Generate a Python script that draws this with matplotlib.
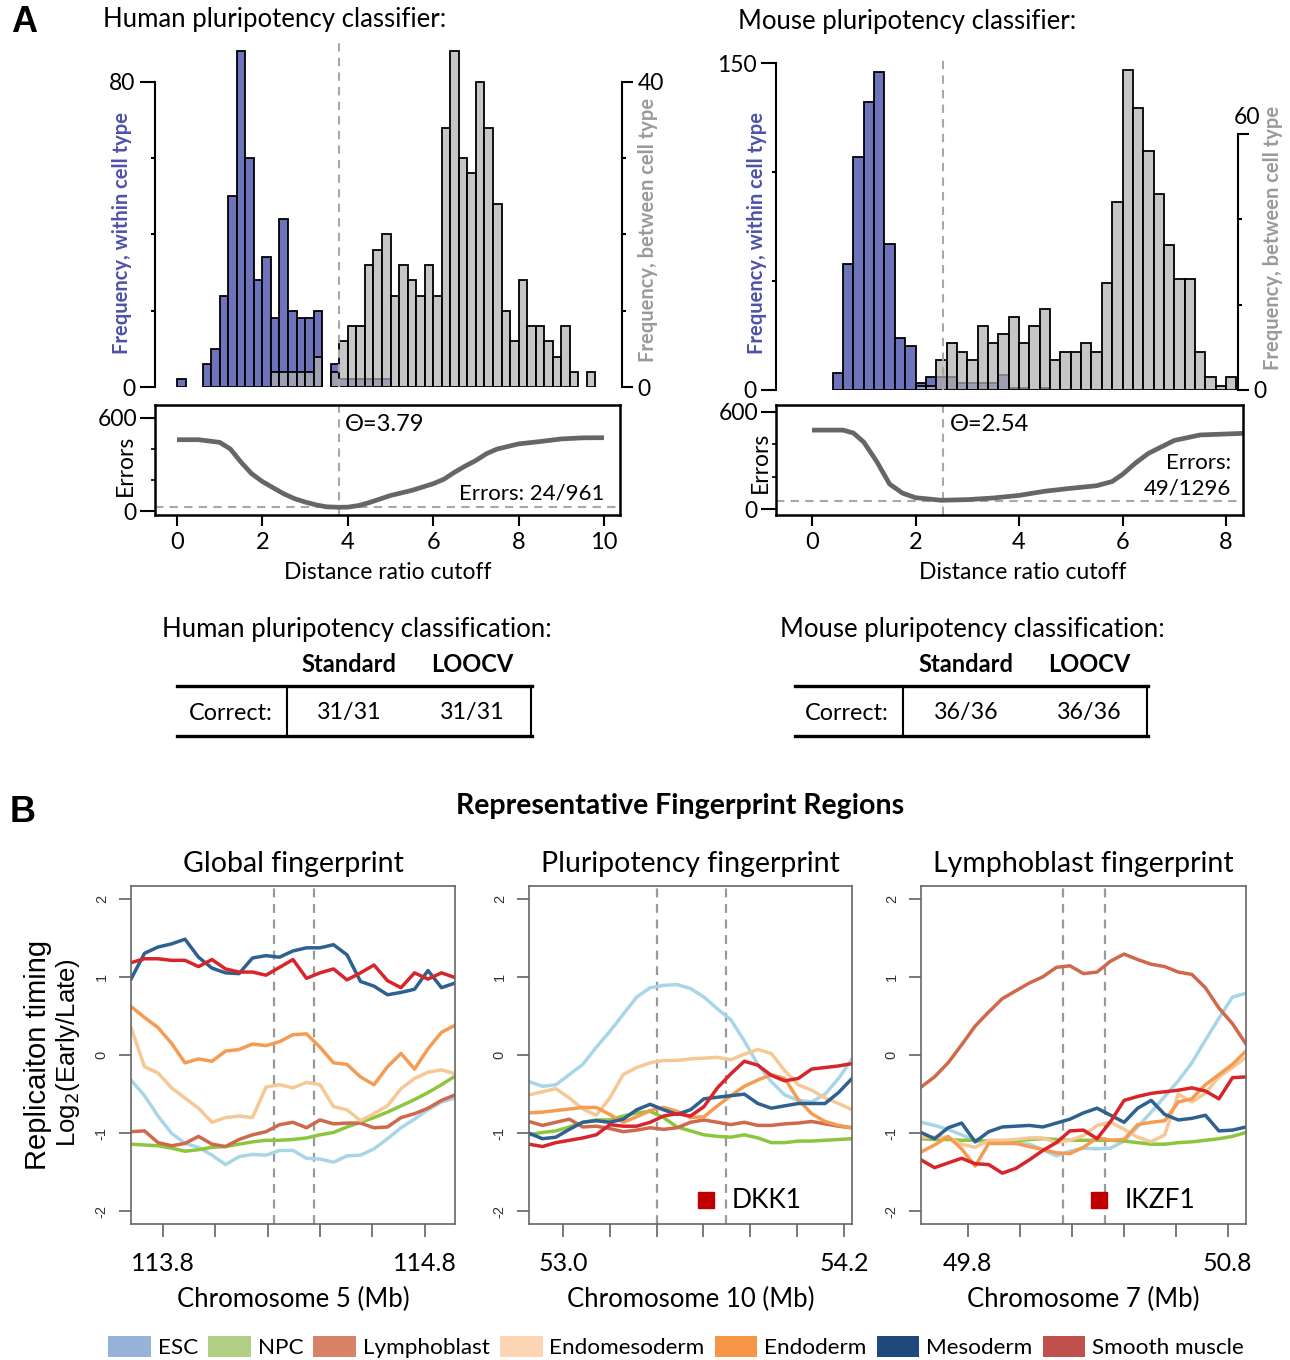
import numpy as np
import matplotlib
matplotlib.use('Agg')
import matplotlib.pyplot as plt
from matplotlib.lines import Line2D
from matplotlib.patches import Patch

plt.rcParams['font.family'] = ['Lato', 'DejaVu Sans']

W, H = 1290, 1360

# ---------------- Panel A data ----------------
# human: bins of 0.2 from 0 to 10
human_edges = np.arange(0, 10, 0.2)
human_within = [2, 0, 0, 6, 10, 24, 50, 88, 60, 28, 34, 18, 44, 20, 18, 18, 20, 0, 6, 2,
                2, 2, 2, 2, 2] + [0] * 25
human_between = [0] * 11 + [2, 2, 2, 2, 2, 4, 0, 2, 6, 8, 8, 16, 18, 20, 12, 16, 14, 12, 16,
                            12, 34, 44, 30, 28, 40, 34, 24, 10, 6, 14, 8, 8, 6, 4, 8, 2, 0, 2, 0]
# mouse: bins of 0.2 from 0.4 to 8.2
mouse_edges = np.arange(0.4, 8.2, 0.2)
mouse_within = [8, 58, 107, 132, 146, 67, 24, 20, 3, 6, 6, 6, 3, 3, 3, 3, 7, 1, 1, 0, 1] + [0] * 18
mouse_between = [0] * 8 + [1, 1, 7, 11, 9, 7, 15, 11, 13, 17, 11, 15, 19, 7, 9, 9, 11, 9,
                           25, 44, 75, 66, 56, 46, 34, 26, 26, 9, 3, 1, 3]

human_err_x = [0, 0.5, 1.0, 1.25, 1.5, 1.75, 2.0, 2.25, 2.5, 2.75, 3.0, 3.25, 3.5, 3.79, 4.0,
               4.25, 4.5, 5.0, 5.5, 6.0, 6.25, 6.5, 6.75, 7.0, 7.25, 7.5, 8.0, 8.5, 9.0, 9.5, 10.0]
human_err_y = [460, 460, 443, 400, 315, 240, 190, 150, 111, 80, 58, 40, 27, 24, 25,
               35, 54, 100, 133, 176, 205, 250, 290, 326, 370, 400, 433, 448, 465, 472, 473]
mouse_err_x = [0, 0.6, 0.8, 1.0, 1.25, 1.5, 1.75, 2.0, 2.5, 3.0, 3.5, 4.0, 4.5, 5.0, 5.5,
               5.8, 6.0, 6.25, 6.5, 7.0, 7.5, 8.0, 8.33]
mouse_err_y = [488, 488, 470, 414, 294, 154, 98, 70, 54, 58, 68, 84, 110, 128, 144,
               170, 214, 284, 344, 424, 458, 464, 468]

human_theta, human_min = 3.79, 24
mouse_theta, mouse_min = 2.54, 49

# ---------------- Panel B data ----------------
cell_types = ['ESC', 'NPC', 'Lymphoblast', 'Endomesoderm', 'Endoderm', 'Mesoderm', 'Smooth muscle']
legend_colors = ['#95b3d7', '#b0cf85', '#d9826a', '#fcd5b5', '#f79646', '#1f497d', '#c0504d']
line_colors = ['#a8d6e8', '#8cc63f', '#d0694c', '#f5c896', '#f59c52', '#2f6190', '#d7262b']

G_ESC = [-0.32, -0.52, -0.78, -1.00, -1.13, -1.18, -1.28, -1.40, -1.30, -1.27, -1.28, -1.22, -1.22,
         -1.32, -1.33, -1.37, -1.29, -1.28, -1.20, -1.07, -0.93, -0.82, -0.70, -0.60, -0.55]
G_NPC = [-1.14, -1.15, -1.16, -1.19, -1.23, -1.21, -1.18, -1.17, -1.14, -1.11, -1.09, -1.09, -1.08,
         -1.06, -1.02, -0.99, -0.92, -0.86, -0.80, -0.73, -0.65, -0.57, -0.48, -0.38, -0.27]
G_LYM = [-0.98, -0.97, -1.12, -1.16, -1.13, -1.04, -1.14, -1.17, -1.08, -1.02, -0.98, -0.89, -0.86,
         -0.93, -0.83, -0.88, -0.87, -0.87, -0.93, -0.92, -0.80, -0.75, -0.68, -0.58, -0.51]
G_EME = [0.35, -0.15, -0.23, -0.42, -0.55, -0.68, -0.86, -0.80, -0.78, -0.80, -0.41, -0.38, -0.42,
         -0.35, -0.38, -0.66, -0.70, -0.84, -0.75, -0.65, -0.43, -0.30, -0.22, -0.19, -0.24]
G_END = [0.62, 0.48, 0.35, 0.15, -0.10, -0.05, -0.08, 0.05, 0.07, 0.14, 0.12, 0.17, 0.26,
         0.27, 0.10, -0.10, -0.12, -0.28, -0.38, -0.15, 0.02, -0.18, 0.08, 0.29, 0.38]
G_MES = [0.97, 1.30, 1.38, 1.42, 1.48, 1.25, 1.11, 1.05, 1.04, 1.24, 1.27, 1.25, 1.33,
         1.37, 1.37, 1.41, 1.28, 0.94, 0.88, 0.77, 0.80, 0.84, 1.08, 0.86, 0.92]
G_SMC = [1.18, 1.23, 1.23, 1.21, 1.21, 1.13, 1.22, 1.10, 1.06, 1.06, 1.02, 1.12, 1.22,
         0.98, 1.05, 1.10, 0.96, 1.05, 1.15, 0.95, 0.86, 1.05, 0.97, 1.05, 0.99]

P_ESC = [-0.34, -0.40, -0.38, -0.25, -0.12, 0.10, 0.30, 0.52, 0.74, 0.86, 0.89, 0.90, 0.85,
         0.74, 0.59, 0.45, 0.18, -0.12, -0.34, -0.51, -0.58, -0.60, -0.50, -0.30, -0.05]
P_NPC = [-1.02, -0.99, -0.97, -0.92, -0.86, -0.83, -0.83, -0.78, -0.74, -0.72, -0.80, -0.92, -0.97,
         -1.02, -1.04, -1.05, -1.02, -1.06, -1.12, -1.12, -1.10, -1.10, -1.09, -1.08, -1.07]
P_LYM = [-0.85, -0.90, -0.86, -0.82, -0.92, -0.91, -0.94, -0.98, -0.96, -0.93, -0.95, -0.93, -0.86,
         -0.83, -0.86, -0.89, -0.86, -0.90, -0.90, -0.88, -0.87, -0.85, -0.88, -0.91, -0.93]
P_EME = [-0.51, -0.47, -0.43, -0.55, -0.69, -0.77, -0.55, -0.25, -0.16, -0.10, -0.07, -0.07, -0.05,
         -0.04, -0.03, -0.06, 0.01, 0.07, 0.02, -0.20, -0.38, -0.45, -0.55, -0.62, -0.70]
P_END = [-0.74, -0.73, -0.71, -0.69, -0.67, -0.67, -0.76, -0.86, -0.79, -0.71, -0.67, -0.72, -0.80,
         -0.79, -0.65, -0.52, -0.40, -0.32, -0.25, -0.30, -0.57, -0.75, -0.85, -0.90, -0.93]
P_MES = [-1.00, -1.07, -1.05, -0.95, -0.86, -0.84, -0.86, -0.82, -0.70, -0.63, -0.70, -0.76, -0.70,
         -0.56, -0.54, -0.52, -0.50, -0.62, -0.68, -0.65, -0.62, -0.62, -0.62, -0.48, -0.30]
P_SMC = [-1.14, -1.17, -1.12, -1.09, -1.06, -1.02, -0.89, -0.91, -0.91, -0.86, -0.78, -0.75, -0.78,
         -0.66, -0.42, -0.24, -0.08, -0.13, -0.26, -0.33, -0.30, -0.18, -0.16, -0.14, -0.11]

L_ESC = [-0.86, -0.90, -0.95, -1.02, -1.10, -1.13, -1.13, -1.13, -1.14, -1.21, -1.29, -1.23, -1.19,
         -1.20, -1.19, -1.10, -0.92, -0.73, -0.53, -0.33, -0.10, 0.19, 0.47, 0.74, 0.79]
L_NPC = [-1.07, -1.08, -1.08, -1.09, -1.09, -1.10, -1.11, -1.10, -1.08, -1.07, -1.08, -1.09, -1.09,
         -1.09, -1.09, -1.10, -1.12, -1.14, -1.14, -1.12, -1.11, -1.09, -1.07, -1.04, -0.99]
L_LYM = [-0.41, -0.28, -0.10, 0.13, 0.37, 0.55, 0.72, 0.82, 0.92, 1.00, 1.12, 1.14, 1.04,
         1.06, 1.20, 1.29, 1.22, 1.16, 1.13, 1.06, 1.03, 0.86, 0.60, 0.40, 0.14]
L_EME = [-1.05, -1.05, -1.05, -1.14, -1.18, -1.09, -1.09, -1.08, -1.06, -1.06, -1.12, -1.09, -1.03,
         -0.90, -0.86, -0.95, -1.05, -1.11, -1.02, -0.50, -0.60, -0.49, -0.28, -0.16, -0.03]
L_END = [-1.24, -1.15, -1.04, -1.20, -1.42, -1.13, -1.13, -1.13, -1.17, -1.21, -1.25, -1.26, -1.18,
         -1.06, -1.09, -1.08, -0.89, -0.86, -0.84, -0.60, -0.56, -0.38, -0.25, -0.12, 0.05]
L_MES = [-0.99, -1.07, -0.93, -0.87, -1.11, -0.98, -0.92, -0.91, -0.90, -0.92, -0.87, -0.82, -0.74,
         -0.68, -0.77, -0.86, -0.68, -0.58, -0.76, -0.83, -0.81, -0.77, -0.97, -0.96, -0.92]
L_SMC = [-1.34, -1.44, -1.38, -1.32, -1.39, -1.40, -1.51, -1.45, -1.34, -1.22, -1.12, -0.97, -0.96,
         -1.07, -0.85, -0.58, -0.53, -0.49, -0.47, -0.45, -0.42, -0.46, -0.56, -0.29, -0.28]

global_range = (113.679, 114.915)
pluri_range = (52.855, 54.234)
lympho_range = (49.620, 50.870)
global_ticks = [113.8, 114.0, 114.2, 114.4, 114.6, 114.8]
pluri_ticks = [53.0, 53.2, 53.4, 53.6, 53.8, 54.0, 54.2]
lympho_ticks = [49.8, 50.0, 50.2, 50.4, 50.6, 50.8]
global_marks = [114.226, 114.379]
pluri_marks = [53.40, 53.695]
lympho_marks = [50.165, 50.327]

fig = plt.figure(figsize=(W / 100, H / 100), dpi=100)


def box(x0, y0, x1, y1):
    return [x0 / W, 1 - y1 / H, (x1 - x0) / W, (y1 - y0) / H]


def T(x, y, s, **kw):
    kw.setdefault('ha', 'center')
    kw.setdefault('va', 'center')
    fig.text(x / W, 1 - y / H, s, **kw)


def L(x0, y0, x1, y1, **kw):
    fig.add_artist(Line2D([x0 / W, x1 / W], [1 - y0 / H, 1 - y1 / H], **kw))


BLUE = '#6d74bc'
GRAYBAR = (0.69, 0.69, 0.69, 0.72)
DASH = '#a8a8a8'
TICKFS = 16.5


def hist_panel(px, zero_px, upx, wmax, wtop, wminor, bmax, btop, bminor,
               edges, within, between, theta, dash_top):
    x0, y0, x1, y1 = px
    ax = fig.add_axes(box(x0, y0, x1, y1))
    ax.set_xlim((x0 - zero_px) / upx, (x1 - zero_px) / upx)
    ax.set_ylim(0, wtop)
    e = np.array(edges)
    w = np.array(within)
    b = np.array(between)
    m = w > 0
    ax.bar(e[m], w[m], width=0.2, align='edge', color=BLUE, edgecolor='black', lw=1.3)
    for s in ['top', 'right', 'bottom']:
        ax.spines[s].set_visible(False)
    ax.spines['left'].set_bounds(0, wmax)
    ax.spines['left'].set_linewidth(1.5)
    ax.set_xticks([])
    ax.set_yticks([0, wmax])
    ax.set_yticklabels(['0', str(wmax)], fontsize=TICKFS)
    ax.set_yticks(wminor, minor=True)
    ax.tick_params(axis='y', which='major', length=11, width=1.5, pad=3)
    ax.tick_params(axis='y', which='minor', length=3, width=1.5)
    ax.patch.set_alpha(0)

    ax2 = ax.twinx()
    ax2.set_ylim(0, btop)
    m = b > 0
    ax2.bar(e[m], b[m], width=0.2, align='edge', color=GRAYBAR, edgecolor='black', lw=1.3)
    for s in ['top', 'left', 'bottom']:
        ax2.spines[s].set_visible(False)
    ax2.spines['right'].set_bounds(0, bmax)
    ax2.spines['right'].set_linewidth(1.5)
    ax2.set_yticks([0, bmax])
    ax2.set_yticks(bminor, minor=True)
    ax2.tick_params(axis='y', which='major', length=8, width=1.5, pad=3, labelsize=TICKFS)
    ax2.tick_params(axis='y', which='minor', length=3, width=1.5)
    ax2.plot([theta, theta], [0, dash_top], color=DASH, lw=1.5, ls=(0, (4, 3)), clip_on=False)
    return ax, ax2


def error_panel(px, zero_px, upx, ypx600, ypx0, curve_x, curve_y, theta, emin, xmax_tick):
    x0, y0, x1, y1 = px
    ax = fig.add_axes(box(x0, y0, x1, y1))
    ax.set_xlim((x0 - zero_px) / upx, (x1 - zero_px) / upx)
    per = 600 / (ypx0 - ypx600)
    ax.set_ylim(-(y1 - ypx0) * per, 600 + (ypx600 - y0) * per)
    ax.axhline(emin, color=DASH, lw=1.5, ls=(0, (4, 3)))
    ax.axvline(theta, color=DASH, lw=1.5, ls=(0, (4, 3)))
    ax.plot(curve_x, curve_y, color='#666666', lw=3.4, solid_capstyle='butt')
    for s in ax.spines.values():
        s.set_linewidth(1.8)
    ax.set_yticks([0, 600])
    ax.set_yticklabels(['0', '600'], fontsize=TICKFS)
    ax.set_yticks([200, 400], minor=True)
    ax.tick_params(axis='y', which='major', length=11, width=1.5, pad=2)
    ax.tick_params(axis='y', which='minor', length=3, width=1.2)
    ax.set_xticks(np.arange(0, xmax_tick + 1, 2))
    ax.tick_params(axis='x', length=8, width=1.5, labelsize=17, pad=4)
    return ax


# ---- human
hist_panel((155, 45, 622, 387), 177, 42.7, 80, 342 / 3.8125, [20, 40, 60],
           40, 342 / 7.625, [10, 20, 30], human_edges, human_within, human_between,
           human_theta, (387 - 38) / 7.625)
eh = error_panel((155, 405, 620, 515), 177, 42.7, 418, 511, human_err_x, human_err_y,
                 human_theta, human_min, 10)
eh.text(3.93, 555, 'Θ=3.79', fontsize=17, ha='left', va='center')
eh.text(10.02, 116, 'Errors: 24/961', fontsize=16, ha='right', va='center')

# ---- mouse
hm, hm2 = hist_panel((776, 50, 1238, 390), 812, 51.75, 150, 340 / 2.18, [50, 100],
                     60, 340 / 4.27, [20, 40], mouse_edges, mouse_within, mouse_between,
                     mouse_theta, (390 - 57) / 4.27)
hm2.set_yticklabels(['0', ''])
T(1247, 118, '60', fontsize=TICKFS)
em = error_panel((776, 405, 1243, 515), 812, 51.75, 412, 509, mouse_err_x, mouse_err_y,
                 mouse_theta, mouse_min, 8)
em.text(2.67, 520, 'Θ=2.54', fontsize=17, ha='left', va='center')
em.text(8.1, 205, 'Errors:\n49/1296', fontsize=16, ha='right', va='center', linespacing=1.3)

# axis labels panel A
for xc, yl, yr, xr in [(122, 233, 230, 648), (757, 233, 238, 1273)]:
    T(xc, yl, 'Frequency, within cell type', rotation=90, fontsize=14.5, fontweight='bold',
      color='#4d52a8')
    T(xr, yr, 'Frequency, between cell type', rotation=90, fontsize=14.5, fontweight='bold',
      color='#9a9a9a')
T(125, 465, 'Errors', rotation=90, fontsize=16.5)
T(760, 462, 'Errors', rotation=90, fontsize=16.5)
T(388, 572, 'Distance ratio cutoff', fontsize=16.5)
T(1023, 572, 'Distance ratio cutoff', fontsize=16.5)
T(103, 20, 'Human pluripotency classifier:', fontsize=18.5, ha='left')
T(738, 22, 'Mouse pluripotency classifier:', fontsize=18.5, ha='left')
T(24, 22, 'A', fontsize=26, fontweight='bold', family='Liberation Sans')
T(23, 813, 'B', fontsize=26, fontweight='bold', family='Liberation Sans')

# tables
tables = [
    ('Human pluripotency classification:', 357, (177, 287, 532), (349, 472), 231, ['31/31', '31/31']),
    ('Mouse pluripotency classification:', 972, (795, 903, 1148), (966, 1089), 847, ['36/36', '36/36']),
]
for title, tx, (lx, mx, rx), (c1, c2), cx, vals in tables:
    T(tx, 629, title, fontsize=18.5)
    T(c1, 664, 'Standard', fontsize=17, fontweight='bold')
    T(c2, 664, 'LOOCV', fontsize=17, fontweight='bold')
    L(lx, 686, rx, 686, color='black', lw=2.4)
    L(lx, 736, rx, 736, color='black', lw=2.4)
    L(mx, 686, mx, 736, color='black', lw=1.5)
    L(rx - 1, 686, rx - 1, 736, color='black', lw=1.5)
    T(cx, 713, 'Correct:', fontsize=16.8)
    T(c1, 713, vals[0], fontsize=16.8)
    T(c2, 713, vals[1], fontsize=16.8)

# ---------------- Panel B ----------------
T(680, 806, 'Representative Fingerprint Regions', fontsize=20.5, fontweight='bold')
panels = [
    ('Global fingerprint', 'Chromosome 5 (Mb)', (131, 886, 455, 1224), global_range, global_ticks,
     global_marks, None, [G_ESC, G_NPC, G_LYM, G_EME, G_END, G_MES, G_SMC]),
    ('Pluripotency fingerprint', 'Chromosome 10 (Mb)', (529, 886, 852, 1224), pluri_range, pluri_ticks,
     pluri_marks, 'DKK1', [P_ESC, P_NPC, P_LYM, P_EME, P_END, P_MES, P_SMC]),
    ('Lymphoblast fingerprint', 'Chromosome 7 (Mb)', (921, 886, 1246, 1224), lympho_range, lympho_ticks,
     lympho_marks, 'IKZF1', [L_ESC, L_NPC, L_LYM, L_EME, L_END, L_MES, L_SMC]),
]
for title, xlab, px, xr, ticks, marks, gene, series in panels:
    ax = fig.add_axes(box(*px))
    ax.set_xlim(xr)
    ax.set_ylim(-2.16, 2.16)
    xs = np.linspace(xr[0], xr[1], len(series[0]))
    for m in marks:
        ax.axvline(m, color='#999999', lw=1.6, ls=(0, (4, 3)))
    for ys, c in zip(series, line_colors):
        ax.plot(xs, ys, color=c, lw=2.5, solid_joinstyle='round')
    for s in ax.spines.values():
        s.set_color('#666666')
        s.set_linewidth(1.2)
    ax.set_yticks([-2, -1, 0, 1, 2])
    ax.set_yticklabels(['-2', '-1', '0', '1', '2'], rotation=90, va='center',
                       family='Liberation Sans', fontsize=10.5, color='#333333')
    ax.set_xticks(ticks)
    ax.set_xticklabels([f'{ticks[0]:.1f}'] + [''] * (len(ticks) - 2) + [f'{ticks[-1]:.1f}'],
                       fontsize=18)
    ax.tick_params(axis='both', length=9, width=1.1, color='#555555')
    ax.tick_params(axis='x', pad=11)
    ax.tick_params(axis='y', pad=7)
    ax.set_title(title, fontsize=20.5, pad=10)
    ax.set_xlabel(xlab, fontsize=18.5, labelpad=9)
    if gene:
        ax.plot([0.548], [0.071], marker='s', ms=11, color='#c00000', transform=ax.transAxes,
                clip_on=False)
        ax.text(0.628, 0.071, gene, transform=ax.transAxes, fontsize=19, va='center')

T(38, 1055, 'Replicaiton timing', rotation=90, fontsize=21, family='Liberation Sans')
T(68, 1053, 'Log$_2$(Early/Late)', rotation=90, fontsize=18.5, family='Liberation Sans')

handles = [Patch(facecolor=c, edgecolor='none') for c in legend_colors]
fig.legend(handles, cell_types, loc='center', bbox_to_anchor=(676 / W, 1 - 1347 / H), ncol=7,
           frameon=False, fontsize=16.2, handlelength=1.9, handleheight=1.1, handletextpad=0.3,
           columnspacing=0.45, borderpad=0)

fig.savefig('out.png', dpi=100)
